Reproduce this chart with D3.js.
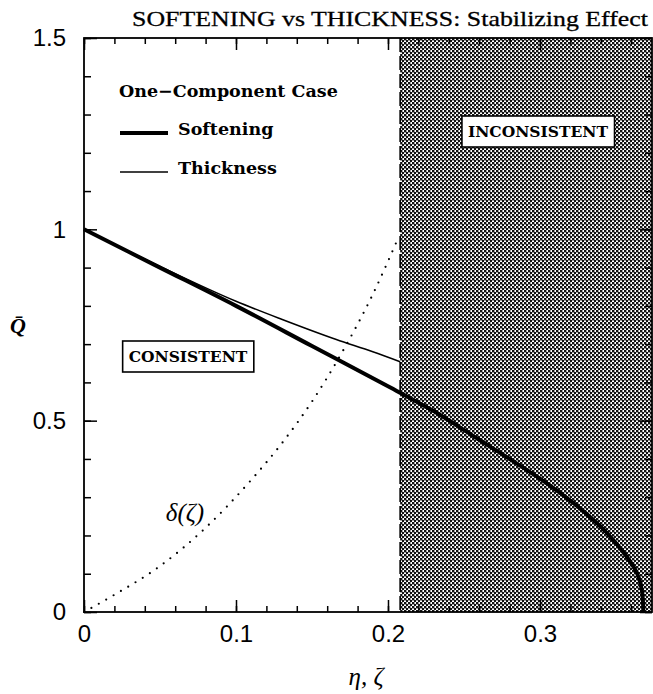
<!DOCTYPE html>
<html>
<head>
<meta charset="utf-8">
<title>Softening vs Thickness</title>
<script src="https://d3js.org/d3.v7.min.js"></script>
<style>
  body { margin: 0; background: #fff; }
  svg { display: block; }
</style>
</head>
<body>
<svg class="chart" width="653" height="694"></svg>
<script>
// values
const softEta = [0, 0.05, 0.10, 0.15, 0.20, 0.23, 0.26, 0.282, 0.305, 0.326, 0.344, 0.357, 0.364, 0.367, 0.368];
const softQ   = [1, 0.90, 0.80, 0.695, 0.59, 0.525, 0.45, 0.395, 0.335, 0.272, 0.207, 0.145, 0.100, 0.058, 0];

const thickEta = [0, 0.05, 0.10, 0.13, 0.166, 0.19, 0.208];
const thickQ   = [1, 0.903, 0.812, 0.765, 0.712, 0.68, 0.654];

const deltaEta = [0, 0.02, 0.05, 0.08, 0.11, 0.13, 0.15, 0.17, 0.19, 0.207];
const deltaQ   = [0, 0.045, 0.12, 0.22, 0.345, 0.44, 0.55, 0.68, 0.83, 0.98];

const boundary = 0.208;   // start of inconsistent region
const xMajor = [0, 0.1, 0.2, 0.3];
const xMinor = d3.range(0, 0.37, 0.02);
const yMajor = [0, 0.5, 1, 1.5];
const yMinor = d3.range(0, 1.51, 0.1);

const svg = d3.select("svg.chart");
const margin = {left: 84, top: 38, right: 1, bottom: 82};
const W = 653 - margin.left - margin.right,
      H = 694 - margin.top - margin.bottom;

const x = d3.scaleLinear().domain([0, 0.3737]).range([0, W]);
const y = d3.scaleLinear().domain([0, 1.5]).range([H, 0]);

const g = svg.append("g").attr("transform", `translate(${margin.left},${margin.top})`);

// halftone pattern for inconsistent region
const pat = svg.append("defs").append("pattern")
  .attr("id", "dots").attr("width", 4).attr("height", 4)
  .attr("patternUnits", "userSpaceOnUse");
pat.append("rect").attr("width", 4).attr("height", 4).attr("fill", "#fff");
pat.append("rect").attr("x", 0).attr("y", 0).attr("width", 2.4).attr("height", 2.4).attr("fill", "#111");
pat.append("rect").attr("x", 2).attr("y", 2).attr("width", 2.4).attr("height", 2.4).attr("fill", "#111");

g.append("rect")
  .attr("x", x(boundary)).attr("y", 0)
  .attr("width", W - x(boundary)).attr("height", H)
  .attr("fill", "url(#dots)");

g.append("line")
  .attr("x1", x(boundary)).attr("x2", x(boundary))
  .attr("y1", 0).attr("y2", H)
  .attr("stroke", "#000").attr("stroke-width", 1.6)
  .attr("stroke-dasharray", "14 4");

// axes / frame ticks (pointing inwards, all four sides)
function tickAxis(axis, tr, vals, size, labels) {
  const a = axis.tickValues(vals).tickSizeInner(-size).tickSizeOuter(0)
    .tickFormat(labels ? d3.format("") : "");
  const sel = g.append("g").attr("transform", tr).call(a);
  sel.select(".domain").remove();
  sel.selectAll("line").attr("stroke", "#000").attr("stroke-width", 1.5);
  return sel;
}
tickAxis(d3.axisBottom(x), `translate(0,${H})`, xMinor, 6, false);
tickAxis(d3.axisTop(x), `translate(0,0)`, xMinor, 6, false);
tickAxis(d3.axisTop(x), `translate(0,0)`, xMajor, 12, false);
tickAxis(d3.axisLeft(y), `translate(0,0)`, yMinor, 7, false);
tickAxis(d3.axisRight(y), `translate(${W},0)`, yMinor, 7, false);
tickAxis(d3.axisRight(y), `translate(${W},0)`, yMajor, 12, false);

const xa = tickAxis(d3.axisBottom(x).tickPadding(13), `translate(0,${H})`, xMajor, 12, true);
const ya = tickAxis(d3.axisLeft(y).tickPadding(18), `translate(0,0)`, yMajor, 13, true);
[xa, ya].forEach(s => s.selectAll("text")
  .attr("font-family", "'Liberation Sans', Arial, sans-serif")
  .attr("font-size", 24).attr("fill", "#000"));

g.append("rect").attr("width", W).attr("height", H)
  .attr("fill", "none").attr("stroke", "#000").attr("stroke-width", 1.8);

// curves
const line = d3.line().x(d => x(d[0])).y(d => y(d[1])).curve(d3.curveMonotoneX);

g.append("path").datum(d3.zip(deltaEta, deltaQ))
  .attr("d", line).attr("fill", "none").attr("stroke", "#000")
  .attr("stroke-width", 2.2).attr("stroke-linecap", "round")
  .attr("stroke-dasharray", "0 8.5");

g.append("path").datum(d3.zip(thickEta, thickQ))
  .attr("d", line).attr("fill", "none").attr("stroke", "#000").attr("stroke-width", 1.5);

g.append("path").datum(d3.zip(softEta, softQ))
  .attr("d", d3.line().x(d => x(d[0])).y(d => y(d[1])).curve(d3.curveCatmullRom))
  .attr("fill", "none").attr("stroke", "#000").attr("stroke-width", 4);

// labels
const serif = "'Liberation Serif', 'DejaVu Serif', serif";
const boldSerif = "'DejaVu Serif', 'Liberation Serif', serif";

svg.append("text").attr("x", 132).attr("y", 26)
  .attr("font-family", serif).attr("font-size", 22)
  .attr("textLength", 516).attr("lengthAdjust", "spacingAndGlyphs")
  .attr("stroke", "#000").attr("stroke-width", 0.3)
  .text("SOFTENING vs THICKNESS: Stabilizing Effect");

svg.append("text").attr("x", 119).attr("y", 97)
  .attr("font-family", boldSerif).attr("font-size", 17.5).attr("font-weight", "bold")
  .text("One\u2212Component Case");

const legend = [["Softening", 4], ["Thickness", 1.5]];
legend.forEach((d, i) => {
  const ly = 133 + i * 39;
  svg.append("line").attr("x1", 120).attr("x2", 168).attr("y1", ly).attr("y2", ly)
    .attr("stroke", "#000").attr("stroke-width", d[1]);
  svg.append("text").attr("x", 178).attr("y", ly + 2)
    .attr("font-family", boldSerif).attr("font-size", 17.5).attr("font-weight", "bold")
    .text(d[0]);
});

function boxLabel(cx, cy, txt) {
  const t = svg.append("text").attr("x", cx).attr("y", cy + 6)
    .attr("text-anchor", "middle")
    .attr("font-family", boldSerif).attr("font-size", 15.5).attr("font-weight", "bold")
    .text(txt);
  const b = t.node().getBBox();
  svg.insert("rect", () => t.node())
    .attr("x", b.x - 6).attr("y", cy - 15).attr("width", b.width + 12).attr("height", 31)
    .attr("fill", "#fff").attr("stroke", "#000").attr("stroke-width", 1.6);
}
boxLabel(188, 356, "CONSISTENT");
boxLabel(538, 131, "INCONSISTENT");

svg.append("text").attr("x", 185).attr("y", 521).attr("text-anchor", "middle")
  .attr("font-family", serif).attr("font-style", "italic").attr("font-size", 25)
  .text("\u03b4(\u03b6)");

svg.append("text").attr("x", 18).attr("y", 333).attr("text-anchor", "middle")
  .attr("font-family", serif).attr("font-style", "italic").attr("font-weight", "bold")
  .attr("font-size", 22)
  .text("Q\u0304");

svg.append("text").attr("x", 366).attr("y", 685).attr("text-anchor", "middle")
  .attr("font-family", serif).attr("font-style", "italic").attr("font-size", 25)
  .text("\u03b7, \u03b6");
</script>
</body>
</html>
